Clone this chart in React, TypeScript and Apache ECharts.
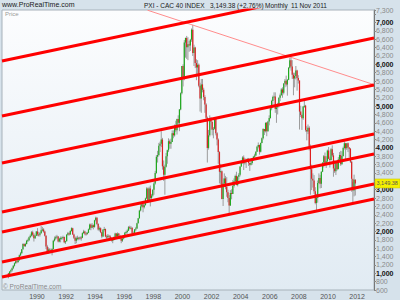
import React, { useEffect, useRef } from 'react';
import * as echarts from 'echarts';

// Monthly CAC 40 candles, Jan 1988 .. Nov 2011 (rows = years)
const firstYear = 1988;
const firstOpen = 1000;
const closeRows: number[][] = [
  [935, 1040, 1070, 1120, 1180, 1240, 1290, 1270, 1310, 1430, 1480, 1574],
  [1700, 1650, 1700, 1780, 1790, 1860, 1900, 1980, 1920, 1840, 1900, 2001],
  [1930, 1920, 1960, 2030, 2050, 2000, 1900, 1640, 1500, 1570, 1560, 1518],
  [1580, 1780, 1830, 1860, 1880, 1760, 1830, 1840, 1850, 1870, 1740, 1766],
  [1920, 1960, 1930, 2010, 2080, 1930, 1850, 1780, 1840, 1850, 1830, 1858],
  [1850, 1960, 2000, 1950, 1940, 1970, 2050, 2170, 2090, 2150, 2110, 2268],
  [2330, 2180, 2050, 2080, 1980, 1880, 2040, 2060, 1880, 1860, 1900, 1881],
  [1820, 1790, 1800, 1860, 1950, 1880, 1950, 1900, 1830, 1780, 1830, 1872],
  [1970, 1990, 2020, 2100, 2090, 2090, 1960, 1960, 2050, 2070, 2200, 2316],
  [2500, 2600, 2650, 2580, 2630, 2790, 3030, 2750, 3030, 2800, 2860, 2999],
  [3150, 3400, 3790, 3830, 4050, 4100, 4200, 3560, 3360, 3550, 3800, 3943],
  [4160, 4100, 4140, 4350, 4300, 4530, 4420, 4690, 4600, 4920, 5310, 5958],
  [5660, 6520, 6630, 6410, 6480, 6450, 6590, 6830, 6270, 6400, 6030, 5926],
  [5990, 5490, 5180, 5520, 5390, 5220, 5040, 4720, 4000, 4300, 4660, 4625],
  [4440, 4460, 4690, 4350, 4200, 3900, 3430, 3440, 2780, 3150, 3270, 3064],
  [2940, 2800, 2620, 2920, 2900, 3090, 3200, 3330, 3110, 3310, 3360, 3558],
  [3640, 3770, 3630, 3690, 3690, 3730, 3640, 3600, 3640, 3710, 3790, 3821],
  [3910, 4030, 4070, 3910, 4120, 4230, 4450, 4400, 4600, 4400, 4630, 4715],
  [4950, 5120, 5220, 5230, 4930, 4970, 5010, 5200, 5260, 5400, 5320, 5542],
  [5610, 5520, 5630, 5920, 6100, 5950, 5750, 5660, 5720, 5850, 5670, 5614],
  [4870, 4790, 4710, 4990, 5010, 4430, 4390, 4480, 4030, 3490, 3260, 3218],
  [2960, 2680, 2810, 3160, 3280, 3140, 3430, 3650, 3800, 3610, 3680, 3936],
  [3740, 3710, 3970, 3820, 3510, 3440, 3640, 3490, 3720, 3830, 3610, 3805],
  [4000, 4110, 3990, 4110, 4010, 3980, 3670, 3260, 2980, 3240, 3149.38],
];
const highRows: number[][] = [
  [1010, 1050, 1095, 1140, 1195, 1260, 1320, 1310, 1330, 1450, 1510, 1580],
  [1720, 1715, 1730, 1800, 1830, 1880, 1930, 2010, 2020, 1960, 1920, 2010],
  [2080, 1990, 1990, 2130, 2110, 2080, 2020, 1910, 1680, 1620, 1600, 1590],
  [1600, 1800, 1880, 1900, 1920, 1890, 1850, 1880, 1880, 1900, 1880, 1780],
  [1940, 1990, 1980, 2030, 2100, 2090, 1950, 1880, 1880, 1900, 1870, 1880],
  [1890, 1980, 2040, 2020, 1990, 1990, 2070, 2190, 2190, 2200, 2170, 2280],
  [2355, 2345, 2200, 2120, 2100, 1990, 2060, 2110, 2070, 1920, 1940, 1920],
  [1910, 1860, 1830, 1880, 1970, 1960, 1980, 1960, 1920, 1850, 1850, 1900],
  [1990, 2020, 2050, 2130, 2140, 2130, 2100, 2000, 2060, 2110, 2210, 2320],
  [2520, 2660, 2700, 2660, 2690, 2810, 3060, 3050, 3070, 3100, 2900, 3010],
  [3180, 3450, 3830, 3930, 4120, 4150, 4400, 4240, 3700, 3600, 3880, 3960],
  [4230, 4200, 4220, 4420, 4420, 4560, 4650, 4700, 4780, 4930, 5330, 5960],
  [6000, 6580, 6640, 6680, 6650, 6560, 6610, 6860, 6944, 6470, 6420, 6120],
  [6100, 6020, 5560, 5650, 5650, 5440, 5260, 5070, 4750, 4430, 4780, 4740],
  [4630, 4500, 4720, 4700, 4380, 4230, 3920, 3620, 3460, 3270, 3390, 3330],
  [3300, 3000, 2870, 2990, 3010, 3230, 3270, 3360, 3430, 3330, 3400, 3560],
  [3710, 3800, 3820, 3760, 3740, 3760, 3760, 3650, 3710, 3760, 3810, 3860],
  [3920, 4050, 4130, 4080, 4130, 4250, 4470, 4450, 4610, 4620, 4650, 4780],
  [4970, 5150, 5250, 5330, 5330, 5020, 5080, 5210, 5300, 5430, 5450, 5550],
  [5650, 5730, 5650, 5930, 6150, 6168, 6100, 5800, 5800, 5960, 5870, 5740],
  [5610, 5010, 4820, 5000, 5140, 5030, 4520, 4560, 4520, 4080, 3600, 3390],
  [3350, 3060, 2900, 3220, 3390, 3350, 3440, 3650, 3830, 3890, 3800, 3960],
  [4020, 3790, 4000, 4060, 3880, 3700, 3690, 3670, 3780, 3900, 3930, 3920],
  [4030, 4160, 4120, 4110, 4130, 4020, 4000, 3690, 3180, 3360, 3250],
];
const lowRows: number[][] = [
  [880, 925, 1010, 1040, 1100, 1160, 1225, 1240, 1250, 1300, 1410, 1470],
  [1560, 1630, 1630, 1690, 1750, 1770, 1840, 1880, 1880, 1760, 1820, 1890],
  [1890, 1880, 1880, 1950, 2000, 1970, 1880, 1580, 1460, 1470, 1510, 1490],
  [1430, 1570, 1760, 1800, 1830, 1740, 1740, 1740, 1800, 1810, 1720, 1700],
  [1760, 1900, 1900, 1920, 2000, 1920, 1820, 1700, 1720, 1790, 1790, 1800],
  [1780, 1840, 1950, 1910, 1900, 1920, 1960, 2040, 2030, 2080, 2050, 2090],
  [2240, 2150, 2020, 2000, 1960, 1840, 1870, 2000, 1860, 1800, 1830, 1840],
  [1800, 1760, 1720, 1790, 1850, 1860, 1870, 1880, 1810, 1720, 1750, 1810],
  [1860, 1940, 1950, 2010, 2050, 2050, 1900, 1920, 1950, 2010, 2060, 2190],
  [2310, 2480, 2570, 2460, 2550, 2620, 2780, 2700, 2740, 2600, 2730, 2830],
  [2880, 3120, 3380, 3650, 3800, 3900, 4020, 3480, 3210, 2880, 3530, 3620],
  [3900, 3980, 3980, 4140, 4230, 4270, 4380, 4320, 4530, 4400, 4900, 5280],
  [5470, 5620, 6160, 6130, 6100, 6300, 6320, 6540, 6200, 5960, 5910, 5620],
  [5720, 5450, 4870, 4840, 5330, 5140, 4840, 4620, 3650, 3960, 4270, 4430],
  [4300, 4230, 4440, 4300, 4060, 3620, 3150, 3130, 2770, 2610, 3060, 3010],
  [2830, 2700, 2403, 2610, 2770, 2900, 3050, 3180, 3110, 3080, 3240, 3320],
  [3550, 3620, 3470, 3600, 3520, 3670, 3570, 3450, 3580, 3600, 3690, 3750],
  [3800, 3900, 3990, 3840, 3890, 4110, 4200, 4310, 4370, 4280, 4390, 4540],
  [4700, 4900, 5030, 5150, 4840, 4600, 4800, 4970, 5120, 5250, 5200, 5280],
  [5450, 5470, 5250, 5620, 5900, 5850, 5650, 5260, 5450, 5640, 5370, 5540],
  [4440, 4740, 4430, 4670, 4960, 4390, 4180, 4330, 3940, 2880, 2990, 3050],
  [2900, 2650, 2465, 2690, 3130, 3030, 3040, 3420, 3530, 3580, 3520, 3640],
  [3730, 3530, 3700, 3780, 3310, 3400, 3350, 3460, 3510, 3690, 3570, 3600],
  [3790, 3960, 3700, 3950, 3900, 3780, 3640, 2950, 2693, 2840, 2860],
];

// Parallel channel lines: value at left edge (1987.6) and right edge (2013.16)
const lineStartTime = 1987.6;
const lineEndTime = 2013.16;
const channelStart = [6080, 4764, 3639, 2467, 1988, 1270, 911];
const channelEnd = [7948, 6632, 5507, 4335, 3856, 3138, 2779];
// Thin resistance line through the 2000 and 2007 highs
const resistanceLine: [number, number][] = [[1997.6, 7295], [2013.16, 5514]];

const yearTicks = [1990, 1992, 1994, 1996, 1998, 2000, 2002, 2004, 2006, 2008, 2010, 2012];
const hiddenTickLabels = [7200, 3200];
const lastPrice = 3149.38;

const fmt = (v: number) => {
  const s = Math.round(v).toString();
  return s.length > 3 ? s.slice(0, s.length - 3) + ',' + s.slice(-3) : s;
};

export default function App() {
  const ref = useRef<HTMLDivElement>(null);
  useEffect(() => {
    if (!ref.current) return;
    const chart = echarts.init(ref.current, undefined, { renderer: 'svg' });

    const candles: number[][] = [];
    let prev = firstOpen;
    closeRows.forEach((row, yi) => {
      row.forEach((c, m) => {
        const t = firstYear + yi + (m + 0.5) / 12;
        candles.push([t, prev, c, lowRows[yi][m], highRows[yi][m]]);
        prev = c;
      });
    });

    const lineSeries = channelStart.map((v, i) => ({
      type: 'line',
      data: [[lineStartTime, v], [lineEndTime, channelEnd[i]]],
      symbol: 'none',
      clip: true,
      lineStyle: { color: '#ff0000', width: 3 },
      z: 5,
      silent: true,
    }));

    const titleStyle = { fontSize: 6.5, fontFamily: 'Liberation Sans', fill: '#1a1a1a' };
    const baseGraphic: any[] = [
      { type: 'text', left: 2, top: 1, style: { ...titleStyle, fontSize: 7, text: 'www.ProRealTime.com' } },
      { type: 'text', left: 144, top: 1.5, style: { ...titleStyle, text: 'PXI - CAC 40 INDEX' } },
      { type: 'text', left: 210, top: 1.5, style: { ...titleStyle, text: '3,149.38 (+2.76%)' } },
      { type: 'text', left: 265, top: 1.5, style: { ...titleStyle, text: 'Monthly' } },
      { type: 'text', left: 291, top: 1.5, style: { ...titleStyle, text: '11 Nov 2011' } },
      { type: 'text', left: 5, top: 11, style: { text: 'Price', fontSize: 6, fontFamily: 'Liberation Sans', fill: '#999' } },
      { type: 'text', left: 3, top: 283, style: { text: '© ProRealTime.com', fontSize: 6.5, fontFamily: 'Liberation Sans', fill: '#888' } },
    ];

    chart.setOption({
      animation: false,
      backgroundColor: '#d6e2eb',
      grid: {
        left: 2, right: 26, top: 10, bottom: 10,
        show: true,
        backgroundColor: new echarts.graphic.LinearGradient(0, 0, 0, 1, [
          { offset: 0, color: '#fcfdfe' },
          { offset: 1, color: '#e1ebf3' },
        ]),
        borderColor: '#a7b2ba',
        borderWidth: 1,
      },
      xAxis: {
        type: 'value',
        min: lineStartTime,
        max: lineEndTime,
        axisLine: { show: false },
        axisTick: { show: false },
        splitLine: { show: false },
        axisLabel: {
          customValues: yearTicks,
          formatter: (v: number) => String(Math.round(v)),
          fontSize: 7,
          fontFamily: 'Liberation Sans',
          color: '#555',
          margin: 3,
        },
      },
      yAxis: {
        type: 'value',
        position: 'right',
        min: 600,
        max: 7300,
        interval: 200,
        axisLine: { show: true, lineStyle: { color: '#777' } },
        axisTick: { show: true, length: 2, lineStyle: { color: '#888' } },
        splitLine: { show: false },
        axisLabel: {
          margin: 2,
          fontSize: 7,
          fontFamily: 'Liberation Sans',
          color: '#8a8a8a',
          showMaxLabel: true,
          showMinLabel: true,
          formatter: (v: number) => {
            if (hiddenTickLabels.indexOf(v) >= 0) return '';
            const s = fmt(v);
            return v % 1000 === 0 ? `{b|${s}}` : s;
          },
          rich: { b: { fontWeight: 'bold', color: '#111', fontSize: 7, fontFamily: 'Liberation Sans' } },
        },
      },
      series: [
        {
          type: 'custom',
          data: candles,
          encode: { x: 0, y: [1, 2, 3, 4] },
          z: 2,
          silent: true,
          renderItem: (params: any, api: any) => {
            const t = api.value(0), o = api.value(1), c = api.value(2), lo = api.value(3), hi = api.value(4);
            const top = api.coord([t, Math.max(o, c)]);
            const bot = api.coord([t, Math.min(o, c)]);
            const h = api.coord([t, hi]);
            const l = api.coord([t, lo]);
            const x = top[0];
            return {
              type: 'group',
              children: [
                { type: 'line', shape: { x1: x, y1: h[1], x2: x, y2: l[1] }, style: { stroke: '#9c9c9c', lineWidth: 1 } },
                {
                  type: 'rect',
                  shape: { x: x - 0.6, y: top[1], width: 1.2, height: Math.max(1, bot[1] - top[1]) },
                  style: { fill: c >= o ? '#1faa1f' : '#dd1f1f' },
                },
              ],
            };
          },
        },
        ...lineSeries,
        {
          type: 'line',
          data: resistanceLine,
          symbol: 'none',
          clip: true,
          lineStyle: { color: '#ff8c8c', width: 1 },
          z: 4,
          silent: true,
        },
      ],
      graphic: baseGraphic,
    });

    const py = chart.convertToPixel({ yAxisIndex: 0 }, lastPrice) as number;
    chart.setOption({
      graphic: [
        ...baseGraphic,
        { type: 'rect', shape: { x: 375, y: py - 4.5, width: 25, height: 9 }, style: { fill: '#f4f000', stroke: '#c9c200', lineWidth: 0.5 }, z: 100 },
        { type: 'text', x: 376.5, y: py, z: 101, style: { text: '3,149.38', fontSize: 5.5, fontFamily: 'Liberation Sans', fill: '#555', verticalAlign: 'middle' } },
      ],
    });

    return () => chart.dispose();
  }, []);
  return <div ref={ref} style={{ position: 'fixed', left: 0, top: 0, width: 400, height: 300 }} />;
}
